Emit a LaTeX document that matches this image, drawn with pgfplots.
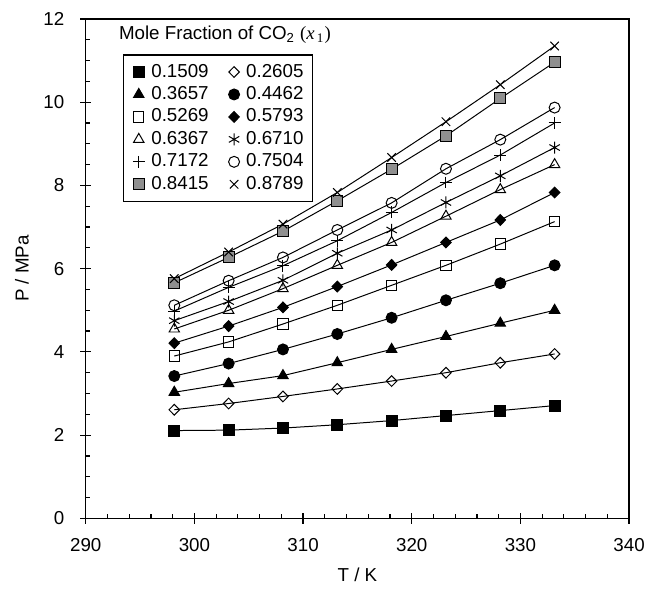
\documentclass[border=0pt]{standalone}
\usepackage{pgfplots}
\pgfplotsset{compat=1.18}
\usepackage{pgfplotstable}
\usetikzlibrary{calc}
\usepackage{fontspec}
\setmainfont{Liberation Sans}
\newfontfamily\serif{Liberation Serif}
\definecolor{mgray}{HTML}{8F8F8F}

% T / K against P / MPa, one column for each mole fraction of CO2
\pgfplotstableread{
T      a     b     c     d     e     f     g     h     i     j     k      l
298.15 2.11  2.61  3.03  3.42  3.90  4.21  4.55  4.75  4.98  5.12  5.66   5.76
303.15 2.12  2.76  3.24  3.72  4.24  4.62  5.00  5.21  5.55  5.71  6.27   6.40
308.15 2.17  2.93  3.43  4.06  4.67  5.07  5.52  5.72  6.07  6.27  6.90   7.07
313.15 2.25  3.11  3.74  4.43  5.12  5.57  6.08  6.37  6.67  6.93  7.63   7.83
318.15 2.35  3.30  4.06  4.82  5.60  6.09  6.63  6.93  7.35  7.58  8.39   8.67
323.15 2.47  3.50  4.37  5.24  6.08  6.63  7.26  7.59  8.07  8.40  9.19   9.53
328.15 2.59  3.74  4.69  5.65  6.59  7.17  7.90  8.23  8.73  9.10  10.09  10.42
333.15 2.71  3.95  5.00  6.08  7.13  7.83  8.50  8.91  9.50  9.87  10.96  11.35
}\data

\begin{document}
\begin{tikzpicture}[font=\fontsize{9.4}{11.2}\selectfont]
\begin{axis}[name=ax,
    scale only axis, width=272.5pt, height=250.5pt,
    xmin=290, xmax=340, ymin=0, ymax=12,
    xtick={290,300,...,340}, ytick={0,2,...,12},
    minor x tick num=4, minor y tick num=3,
    tick pos=left, tick align=center,
    major tick length=5.5pt, minor tick length=2.3pt,
    minor x tick style={yshift=1.15pt},
    minor y tick style={xshift=1.15pt},
    tick style={black, line width=0.6pt},
    axis line style={line width=0.7pt},
    /pgf/number format/assume math mode=true,
    xticklabel style={yshift=-4pt},
    yticklabel style={xshift=-4.5pt},
    xlabel={T / K}, ylabel={P / MPa},
    every axis x label/.style={at={(rel axis cs:0.5,0)}, yshift=-28.5pt, anchor=center},
    every axis y label/.style={at={(rel axis cs:0,0.5)}, xshift=-32pt, rotate=90, anchor=center},
    every axis plot/.append style={black, line width=0.5pt, mark options={solid, line width=0.5pt}},
    legend columns=2, legend cell align=left,
    legend style={at={(rel axis cs:0.069,0.929)}, anchor=north west, draw=black, line width=0.6pt,
      inner xsep=4.5pt, inner ysep=4.5pt, row sep=3.2pt, column sep=3.3pt,
      nodes={inner sep=0pt},
      /tikz/every even column/.append style={column sep=10pt}},
    legend image code/.code={\draw[#1] plot coordinates {(0pt,0pt)};},
    clip=false]
  \addplot[mark=square*, mark size=2.75pt] table[x=T, y=a] {\data};
  \addlegendentry{0.1509}
  \addplot[mark=diamond, mark size=2.7pt, mark options={xscale=1.3}] table[x=T, y=b] {\data};
  \addlegendentry{0.2605}
  \addplot[mark=triangle*, mark size=3pt] table[x=T, y=c] {\data};
  \addlegendentry{0.3657}
  \addplot[mark=*, mark size=2.75pt] table[x=T, y=d] {\data};
  \addlegendentry{0.4462}
  \addplot[mark=square, mark size=2.6pt] table[x=T, y=e] {\data};
  \addlegendentry{0.5269}
  \addplot[mark=diamond*, mark size=2.7pt, mark options={xscale=1.3}] table[x=T, y=f] {\data};
  \addlegendentry{0.5793}
  \addplot[mark=triangle, mark size=3pt] table[x=T, y=g] {\data};
  \addlegendentry{0.6367}
  \addplot[mark=asterisk, mark size=3pt] table[x=T, y=h] {\data};
  \addlegendentry{0.6710}
  \addplot[mark=+, mark size=3pt] table[x=T, y=i] {\data};
  \addlegendentry{0.7172}
  \addplot[mark=o, mark size=2.75pt] table[x=T, y=j] {\data};
  \addlegendentry{0.7504}
  \addplot[mark=square*, mark size=2.75pt, mark options={fill=mgray, draw=black}] table[x=T, y=k] {\data};
  \addlegendentry{0.8415}
  \addplot[mark=x, mark size=3pt] table[x=T, y=l] {\data};
  \addlegendentry{0.8789}
  \node[anchor=west, inner sep=0pt] at (rel axis cs:0.0606,0.968)
    {Mole Fraction of CO\textsubscript{2} {\serif(\textit{x}\textsubscript{\,1})}};
\end{axis}
\pgfresetboundingbox
\path ($(ax.south west)+(-43pt,-36pt)$) rectangle ($(ax.north east)+(8pt,9.5pt)$);
\end{tikzpicture}
\end{document}
